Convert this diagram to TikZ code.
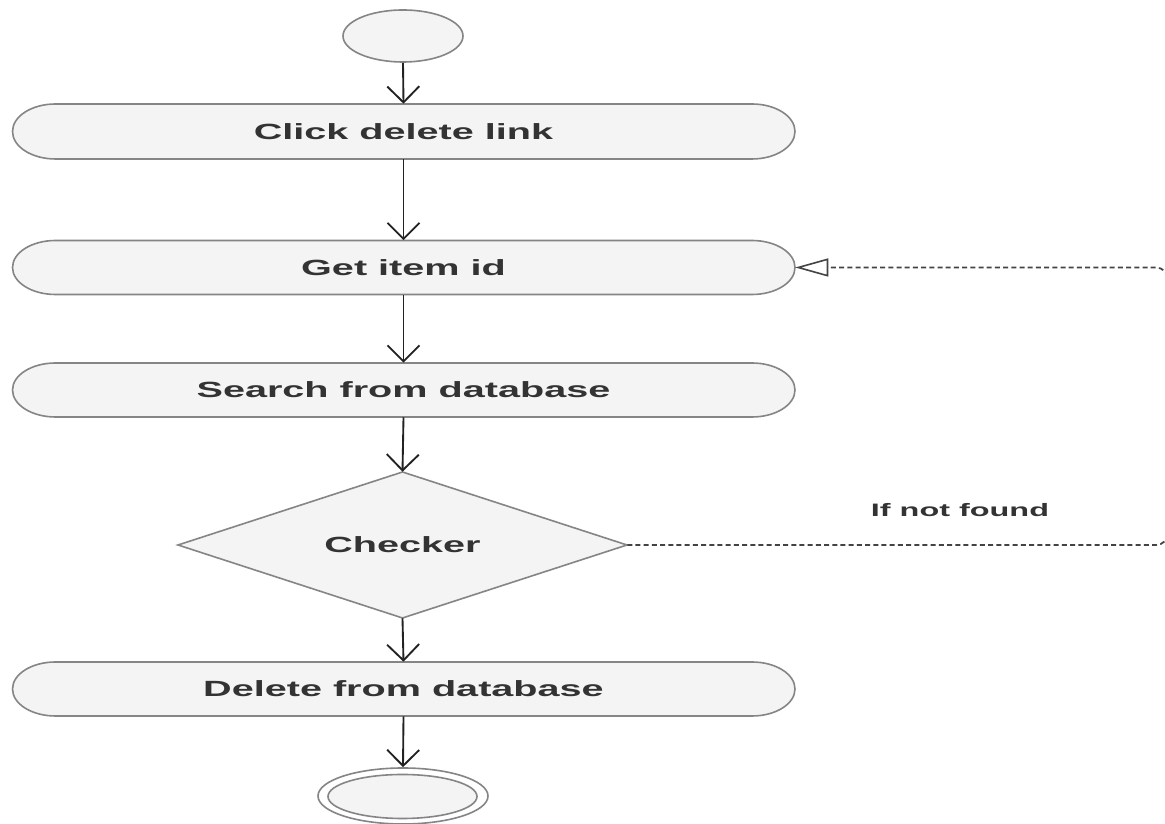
\documentclass[tikz,border=0pt]{standalone}
\usepackage{fontspec}
\setmainfont{Liberation Sans}
\usetikzlibrary{arrows.meta,shapes.geometric,calc}
\definecolor{fillg}{HTML}{F4F4F4}
\definecolor{lineg}{HTML}{858585}
\definecolor{txtc}{HTML}{333333}
\definecolor{arrc}{HTML}{222222}
\newcommand\stx[1]{\scalebox{1.8}[1]{#1}}
\newcommand\pill[4]{%
  \path[pillline] (55.5,{#2+#3/2}) -- (752,{#2+#3/2})
    arc[start angle=90,end angle=-90,x radius=43,y radius={#3/2}]
    -- (55.5,{#2-#3/2})
    arc[start angle=270,end angle=90,x radius=43,y radius={#3/2}] -- cycle;
  \node[txt,minimum width={783*0.75pt},minimum height={#3*0.75pt}] (#1) at (403.5,#2) {\stx{#4}};}
\begin{document}
\begin{tikzpicture}[x=0.75pt,y=0.75pt,
  pillline/.style={fill=fillg,draw=lineg,line width=1.2pt},
  txt/.style={inner sep=0pt,text=txtc,font=\fontsize{16.5}{19}\selectfont\bfseries},
  flow/.style={draw=arrc,line width=1.4pt,-{Straight Barb[length=12pt,width=24pt,line width=1.4pt]}},
  dashline/.style={draw=arrc!85,line width=1.3pt,dash pattern=on 3.75pt off 2.4pt,rounded corners=9pt},
  ovalbox/.style={ellipse,draw=lineg,fill=fillg,line width=1.2pt,inner sep=0pt}
]
\useasboundingbox (0,0) rectangle (1165,824);
\clip (0,0) rectangle (1165,824);
\fill[white] (0,0) rectangle (1165,824);

% start
\node[ovalbox,minimum width={120*0.75pt},minimum height={52*0.75pt}] (start) at (403,788) {};

% activities
\pill{click}{692.5}{55}{Click delete link}
\pill{getid}{556.5}{54}{Get item id}
\pill{search}{434}{54}{Search from database}

% decision
\path[pillline] (178,279) -- (402.5,352) -- (627,279) -- (402.5,206) -- cycle;
\node[txt,minimum width={449*0.75pt},minimum height={146*0.75pt}] (chk) at (402.5,279) {\stx{Checker}};

\pill{del}{135}{54}{Delete from database}

% end
\node[ellipse,draw=lineg,fill=white,line width=1.2pt,inner sep=0pt,minimum width={170*0.75pt},minimum height={56*0.75pt}] (final) at (403,28) {};
\node[ovalbox,minimum width={149*0.75pt},minimum height={44*0.75pt}] (finalin) at (402.5,27.5) {};

% flows
\draw[flow] (start.south) -- (click.north);
\draw[flow] (click.south) -- (getid.north);
\draw[flow] (getid.south) -- (search.north);
\draw[flow] (search.south) -- (chk.north);
\draw[flow] (chk.south) -- (del.north);
\draw[flow] (del.south) -- (final.north);

% loop back
\coordinate (lb) at (1168,279);
\coordinate (lt) at (1168,556.5);
\draw[dashline,-{Triangle[length=24.75pt,width=13.5pt,fill=white,line width=1.2pt]}]
  (chk.east) -- (lb) -- (lt) -- (getid.east);
\node[inner sep=0pt,text=txtc,font=\fontsize{13.5}{16}\selectfont\bfseries] (lbl) at (960,314) {\stx{If not found}};
\end{tikzpicture}
\end{document}
